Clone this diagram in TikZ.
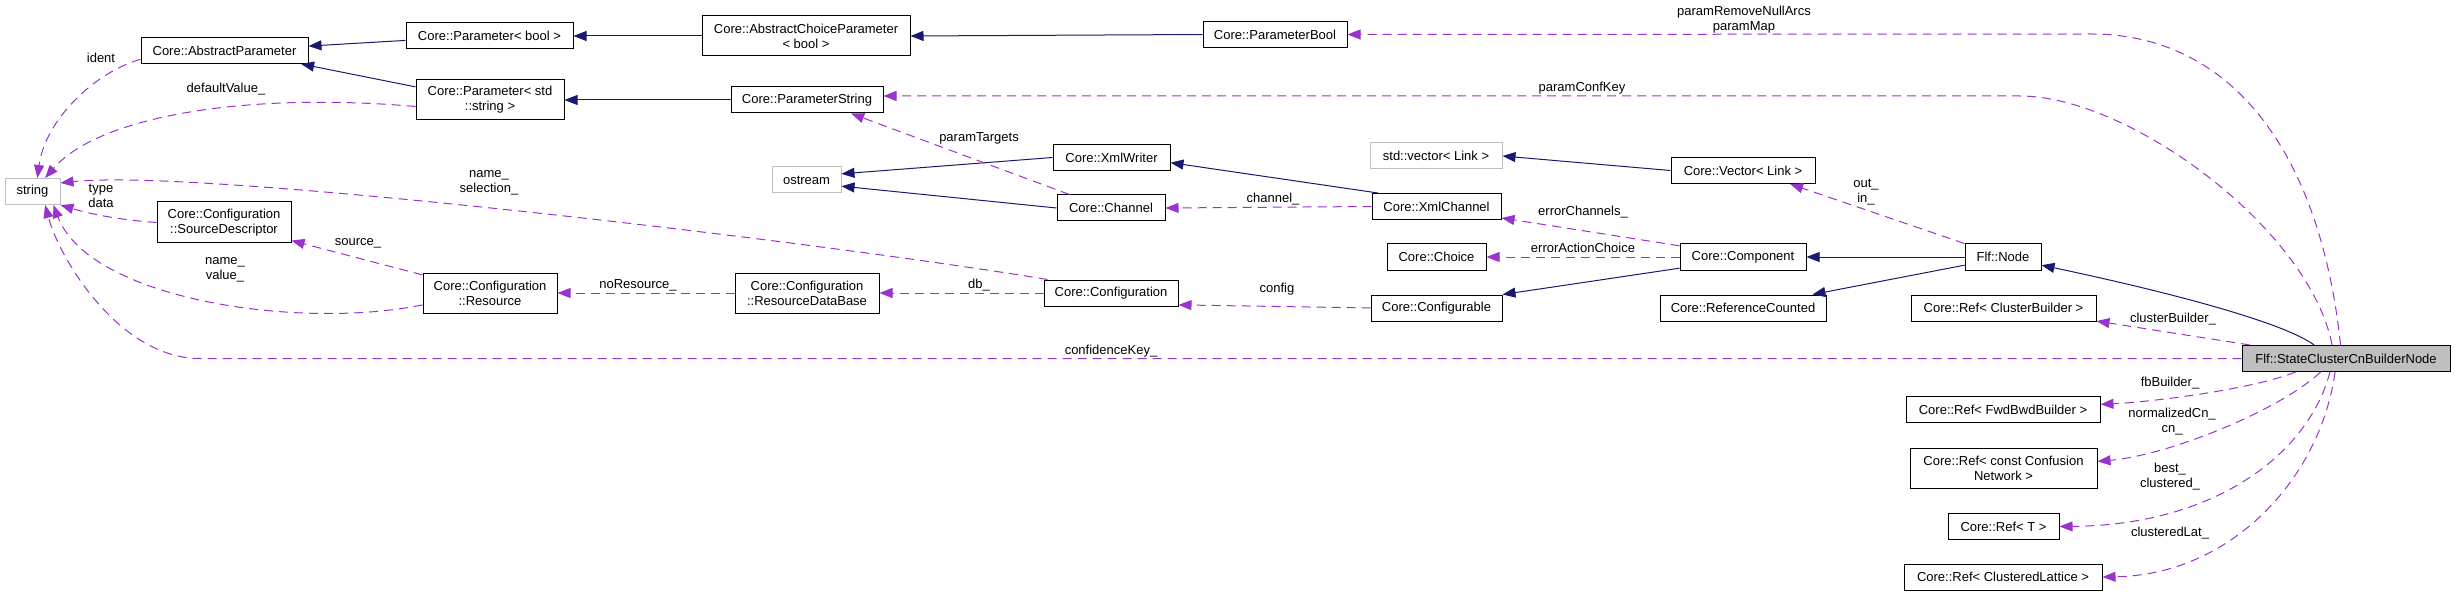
\documentclass[tikz,border=0pt]{standalone}
\usepackage{fontspec}
\setmainfont{Liberation Sans}
\usepackage{tikz}
\usetikzlibrary{arrows.meta}
\usepackage{xcolor}

\definecolor{inhblue}{HTML}{191970}
\definecolor{usepurple}{HTML}{9A32CD}
\definecolor{extgray}{HTML}{BFBFBF}

\begin{document}
\begin{tikzpicture}[x=1pt, y=-1pt,
    cls/.style={rectangle, draw=black, fill=white, line width=1pt, inner sep=0pt, align=center, minimum height=\boxh, font=\fontsize{13}{15}\selectfont},
    extcls/.style={cls, draw=extgray},
    curcls/.style={cls, fill=extgray},
    inh/.style={draw=inhblue, line width=1pt, -{Triangle[length=13pt, width=10pt]}},
    use/.style={draw=usepurple, line width=1pt, dash pattern=on 9pt off 6pt, -{Triangle[length=13pt, width=10pt]}},
    lbl/.style={inner sep=0pt, align=center, font=\fontsize{13}{15}\selectfont}]

          % Variables
          \def \boxh {26pt}
          \def \twoh {40pt}

          \useasboundingbox (0,0) rectangle (2455,596);

          % Classes
          \node[extcls, minimum width=55pt] (str) at (32.5,191.5) {string};
          \node[cls, minimum width=167pt] (absparam) at (224.5,50.5) {Core::AbstractParameter};
          \node[cls, minimum width=167pt] (parbool) at (489.5,36) {Core::Parameter< bool >};
          \node[cls, minimum width=208pt, minimum height=\twoh] (abschoice) at (806,36) {Core::AbstractChoiceParameter\\< bool >};
          \node[cls, minimum width=144pt] (parambool) at (1275,34.5) {Core::ParameterBool};
          \node[cls, minimum width=148pt, minimum height=\twoh] (parstr) at (490,100) {Core::Parameter< std\\::string >};
          \node[cls, minimum width=152pt] (paramstr) at (807,100) {Core::ParameterString};
          \node[extcls, minimum width=69pt] (ostream) at (806.5,180) {ostream};
          \node[cls, minimum width=117pt] (xmlwriter) at (1111.5,157.5) {Core::XmlWriter};
          \node[cls, minimum width=108pt] (channel) at (1111,208) {Core::Channel};
          \node[cls, minimum width=129pt] (xmlchannel) at (1436.5,206.5) {Core::XmlChannel};
          \node[extcls, minimum width=132pt] (stdvec) at (1436,156) {std::vector< Link >};
          \node[cls, minimum width=144pt] (vectorlink) at (1743,170.5) {Core::Vector< Link >};
          \node[cls, minimum width=99pt] (choice) at (1436.5,257) {Core::Choice};
          \node[cls, minimum width=126pt] (component) at (1743,257) {Core::Component};
          \node[cls, minimum width=76pt] (flfnode) at (2003,257) {Flf::Node};
          \node[cls, minimum width=134pt, minimum height=41pt] (srcdesc) at (224,222.5) {Core::Configuration\\::SourceDescriptor};
          \node[cls, minimum width=134pt, minimum height=\twoh] (resource) at (490,293) {Core::Configuration\\::Resource};
          \node[cls, minimum width=144pt, minimum height=\twoh] (resdb) at (807,293) {Core::Configuration\\::ResourceDataBase};
          \node[cls, minimum width=134pt] (config) at (1111,293) {Core::Configuration};
          \node[cls, minimum width=131pt] (configurable) at (1436.5,308) {Core::Configurable};
          \node[cls, minimum width=166pt] (refcount) at (1743,308) {Core::ReferenceCounted};
          \node[cls, minimum width=185pt] (refcb) at (2003.5,308) {Core::Ref< ClusterBuilder >};
          \node[curcls, minimum width=208pt] (statecl) at (2346,358.5) {Flf::StateClusterCnBuilderNode};
          \node[cls, minimum width=194pt] (reffb) at (2003,409.5) {Core::Ref< FwdBwdBuilder >};
          \node[cls, minimum width=187pt, minimum height=\twoh] (refcn) at (2003.5,468) {Core::Ref< const Confusion\\Network >};
          \node[cls, minimum width=111pt] (reft) at (2003.5,526.5) {Core::Ref< T >};
          \node[cls, minimum width=198pt] (refcl) at (2003,577) {Core::Ref< ClusteredLattice >};

          % Inheritance
          \draw[inh] (parbool.183) -- (absparam.3);
          \draw[inh] (parstr.170) -- (absparam.-10);
          \draw[inh] (abschoice.west) -- (parbool.east);
          \draw[inh] (parambool.west) -- (abschoice.east);
          \draw[inh] (paramstr.west) -- (parstr.east);
          \draw[inh] (xmlwriter.west) -- (ostream.10);
          \draw[inh] (channel.west) -- (ostream.-10);
          \draw[inh] (xmlchannel.167) -- (xmlwriter.-5);
          \draw[inh] (vectorlink.west) -- (stdvec.east);
          \draw[inh] (component.190) -- (configurable.north east);
          \draw[inh] (flfnode.west) -- (component.east);
          \draw[inh] (flfnode.192) -- (refcount.11);
          \draw[inh] (statecl.157) .. controls (2280,320) and (2150,288) .. (flfnode.-12);

          % Members
          \draw[use] (statecl.112) .. controls (2320,150) and (2230,34) .. (2091,34) -- (parambool.east);
          \draw[use] (statecl.136) .. controls (2310,230) and (2130,96) .. (2020,96) -- (paramstr.3);
          \draw[use] (channel.162) -- (paramstr.-17);
          \draw[use] (absparam.186) .. controls (95,72) and (45,120) .. (str.70);
          \draw[use] (parstr.185) .. controls (250,92) and (100,115) .. (str.47);
          \draw[use] (config.168) .. controls (820,242) and (200,168) .. (str.17);
          \draw[use] (srcdesc.west) .. controls (120,220) and (90,214) .. (str.south east);
          \draw[use] (resource.165) -- (srcdesc.-15);
          \draw[use] (resource.190) .. controls (300,330) and (90,300) .. (str.-33);
          \draw[use] (resdb.west) -- (resource.east);
          \draw[use] (config.west) -- (resdb.east);
          \draw[use] (configurable.west) -- (config.-10);
          \draw[use] (xmlchannel.west) -- (channel.east);
          \draw[use] (component.170) -- (xmlchannel.-10);
          \draw[use] (component.west) -- (choice.east);
          \draw[use] (flfnode.north west) -- (vectorlink.-16);
          \draw[use] (statecl.west) -- (200,358.5) .. controls (120,358.5) and (60,260) .. (str.-47);
          \draw[use] (statecl.172) -- (refcb.-8);
          \draw[use] (statecl.195) .. controls (2250,390) and (2150,402) .. (reffb.3);
          \draw[use] (statecl.208) .. controls (2280,410) and (2170,455) .. (refcn.4);
          \draw[use] (statecl.220) .. controls (2310,450) and (2220,525) .. (reft.east);
          \draw[use] (statecl.231) .. controls (2320,480) and (2230,575) .. (refcl.east);

          % Labels
          \node[lbl] (lident) at (101,58) {ident};
          \node[lbl] (ldefault) at (226,89) {defaultValue\_};
          \node[lbl] (lselection) at (489,183) {name\_\\selection\_};
          \node[lbl] (ltype) at (101,196) {type\\data};
          \node[lbl] (lsource) at (358,243) {source\_};
          \node[lbl] (lvalue) at (225,270) {name\_\\value\_};
          \node[lbl] (lnores) at (638,285) {noResource\_};
          \node[lbl] (ldb) at (979,285) {db\_};
          \node[lbl] (lconfig) at (1277,289) {config};
          \node[lbl] (ltargets) at (979,138) {paramTargets};
          \node[lbl] (lchannel) at (1273,199) {channel\_};
          \node[lbl] (lerrchan) at (1583,212) {errorChannels\_};
          \node[lbl] (lerrchoice) at (1583,248) {errorActionChoice};
          \node[lbl] (lconfkey) at (1582,88) {paramConfKey};
          \node[lbl] (lremove) at (1744,19.5) {paramRemoveNullArcs\\paramMap};
          \node[lbl] (lout) at (1866,192) {out\_\\in\_};
          \node[lbl] (lconfidence) at (1111,351) {confidenceKey\_};
          \node[lbl] (lcluster) at (2173,319) {clusterBuilder\_};
          \node[lbl] (lfb) at (2170,383) {fbBuilder\_};
          \node[lbl] (lnormal) at (2172,422) {normalizedCn\_\\cn\_};
          \node[lbl] (lbest) at (2170,477) {best\_\\clustered\_};
          \node[lbl] (llat) at (2170,533) {clusteredLat\_};

        \end{tikzpicture}
\end{document}
